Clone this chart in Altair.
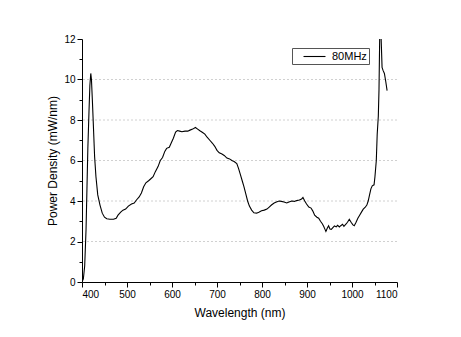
import altair as alt
import pandas as pd

wavelength = [400, 403, 406, 409, 411, 413, 415.5, 417.5, 419.5, 421, 423, 425.5, 428, 431, 435, 440, 445, 450, 455, 462,
              470, 476, 480, 486, 491, 497, 503, 510, 516, 521, 527, 532, 537, 542, 548, 553, 558, 563, 569, 574,
              579, 584, 588, 594, 598, 603, 608, 612, 617, 622, 629, 635, 640, 646, 652, 657, 662, 668, 673, 678,
              684, 690, 695, 700, 705, 711, 716, 722, 728, 733, 738, 744, 748, 752, 756, 760, 764, 768, 772, 777,
              782, 788, 793, 799, 805, 811, 816, 821, 827, 832, 838, 843, 849, 855, 860, 866, 872, 877, 883, 888,
              891, 895, 899, 904, 909, 913, 917, 922, 926, 930, 934, 937, 940, 942, 945, 948, 951, 954, 958, 961,
              965, 968, 972, 975, 979, 982, 986, 990, 994, 998, 1002, 1005, 1009, 1013, 1017, 1021, 1025, 1029, 1033, 1036,
              1039, 1042, 1045, 1049, 1051, 1054, 1056, 1058.5, 1060, 1061.5, 1063, 1064.5, 1066.8, 1069, 1072, 1075, 1078]
power = [0.0, 0.15, 0.8, 2.6, 4.6, 6.6, 8.4, 9.7, 10.3, 10.0, 9.0, 7.6, 6.2, 5.2, 4.3, 3.8, 3.4, 3.2, 3.12, 3.1,
         3.1, 3.15, 3.3, 3.45, 3.55, 3.6, 3.75, 3.85, 3.9, 4.05, 4.2, 4.4, 4.7, 4.9, 5.0, 5.1, 5.2, 5.45, 5.7, 6.0,
         6.15, 6.45, 6.6, 6.65, 6.85, 7.1, 7.4, 7.48, 7.45, 7.42, 7.45, 7.45, 7.5, 7.55, 7.63, 7.55, 7.47, 7.38, 7.3, 7.15,
         7.0, 6.85, 6.7, 6.5, 6.38, 6.32, 6.25, 6.12, 6.08, 6.0, 5.95, 5.85, 5.6, 5.3, 5.0, 4.7, 4.35, 4.0, 3.75, 3.55,
         3.42, 3.4, 3.45, 3.52, 3.55, 3.6, 3.7, 3.8, 3.9, 3.95, 4.0, 3.98, 3.95, 3.9, 3.95, 4.0, 3.98, 4.02, 4.05, 4.1,
         4.17, 4.0, 3.85, 3.7, 3.65, 3.5, 3.3, 3.2, 3.15, 3.0, 2.88, 2.75, 2.6, 2.5, 2.65, 2.78, 2.62, 2.6, 2.7, 2.77,
         2.72, 2.8, 2.72, 2.78, 2.85, 2.75, 2.85, 2.95, 3.1, 2.95, 2.82, 2.78, 2.95, 3.15, 3.3, 3.45, 3.6, 3.68, 3.8, 4.0,
         4.3, 4.6, 4.75, 4.8, 5.2, 6.0, 7.3, 8.2, 9.5, 12.0, 13.5, 12.2, 10.6, 10.45, 10.3, 9.9, 9.45]
series_name = "80MHz"

x_major = [400, 500, 600, 700, 800, 900, 1000, 1100]
x_minor = [450, 550, 650, 750, 850, 950, 1050]
y_major = [0, 2, 4, 6, 8, 10, 12]
y_minor = [1, 3, 5, 7, 9, 11]
grid_vals = [2, 4, 6, 8, 10]

FONT = "Liberation Sans"

df = pd.DataFrame({"wl": wavelength, "p": power, "series": [series_name] * len(wavelength)})
grid_df = pd.DataFrame({"g": grid_vals})

xs = alt.Scale(domain=[400, 1100], nice=False, zero=False)
ys = alt.Scale(domain=[0, 12], nice=False)

grid = alt.Chart(grid_df).mark_rule(color="#c4c4c4", strokeDash=[2, 2], strokeWidth=0.8).encode(
    y=alt.Y("g:Q", scale=ys, axis=None)
)

minor_axes = alt.Chart(grid_df).mark_point(opacity=0).encode(
    x=alt.X("g:Q", scale=xs, axis=alt.Axis(orient="bottom", values=x_minor, labels=False, domain=False,
                                            ticks=True, tickSize=3, title=None, grid=False, tickColor="black")),
    y=alt.Y("g:Q", scale=ys, axis=alt.Axis(orient="left", values=y_minor, labels=False, domain=False,
                                            ticks=True, tickSize=3, title=None, grid=False, tickColor="black")),
)

line = alt.Chart(df).mark_line(color="black", strokeWidth=1.1, clip=True).encode(
    x=alt.X("wl:Q", scale=xs, axis=alt.Axis(orient="bottom", values=x_major, format="d", title="Wavelength (nm)",
                                             grid=False, tickSize=5, labelFontSize=10, titleFontSize=12,
                                             titlePadding=8, labelPadding=2, titleFontWeight="normal")),
    y=alt.Y("p:Q", scale=ys, axis=alt.Axis(orient="left", values=y_major, title="Power Density (mW/nm)", grid=False,
                                            tickSize=5, labelFontSize=10, titleFontSize=12, titlePadding=4,
                                            labelPadding=2, titleFontWeight="normal")),
    color=alt.Color("series:N", scale=alt.Scale(range=["black"]),
                    legend=alt.Legend(title=None, orient="none", legendX=210, legendY=9,
                                      symbolType="M-2,0H2", symbolSize=121, symbolStrokeWidth=1.1,
                                      strokeColor="#555", fillColor="white",
                                      padding=2, labelFontSize=11, symbolOffset=14, labelOffset=11)),
    order="wl:Q",
)

chart = alt.layer(grid, minor_axes, line).resolve_axis(x="independent", y="independent").properties(
    width=315, height=243, autosize=alt.AutoSizeParams(type="none"),
    padding={"left": 82, "top": 39, "right": 64, "bottom": 55}, background="white"
).configure_axis(
    labelFont=FONT, titleFont=FONT, labelColor="black", titleColor="black", domainColor="black",
    tickColor="black", domainWidth=1
).configure_legend(labelFont=FONT, labelColor="black").configure_view(stroke=None)

chart.save("out.html", embed_options={"renderer": "svg", "actions": False})
